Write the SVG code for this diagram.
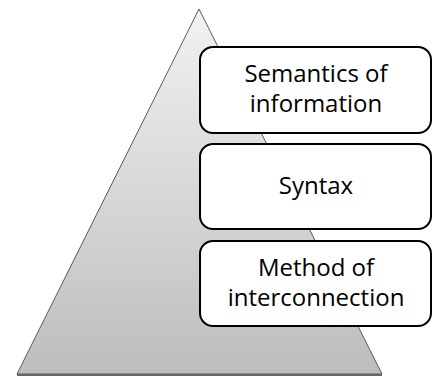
<svg xmlns="http://www.w3.org/2000/svg" width="432" height="376" viewBox="0 0 432 376">
  <style>
    .box { fill: #ffffff; stroke: #000000; stroke-width: 2; }
    .lbl { font-family: "Open Sans", "Liberation Sans", sans-serif; font-size: 24px; fill: #000000; text-anchor: middle; }
  </style>
  <defs>
    <linearGradient id="pyramidFill" x1="0" y1="0" x2="0" y2="1">
      <stop offset="0" stop-color="#f2f2f2"/>
      <stop offset="1" stop-color="#bdbdbd"/>
    </linearGradient>
  </defs>
  <rect width="432" height="376" fill="#ffffff"/>
  <g id="pyramid">
    <polygon points="199,9 382,374 17,374" fill="url(#pyramidFill)" stroke="#595959" stroke-width="1"/>
    <line x1="17" y1="375" x2="382" y2="375" stroke="#666666" stroke-width="2"/>
  </g>
  <g id="semantics">
    <rect class="box" x="200" y="47" width="231" height="86" rx="13"/>
    <text class="lbl" x="316" y="82">Semantics of</text>
    <text class="lbl" x="316" y="112">information</text>
  </g>
  <g id="syntax">
    <rect class="box" x="200" y="144" width="231" height="85" rx="13"/>
    <text class="lbl" x="316" y="194">Syntax</text>
  </g>
  <g id="interconnection">
    <rect class="box" x="200" y="241" width="231" height="85" rx="13"/>
    <text class="lbl" x="316" y="276">Method of</text>
    <text class="lbl" x="316" y="306">interconnection</text>
  </g>
  <g id="connectors"/>
</svg>
